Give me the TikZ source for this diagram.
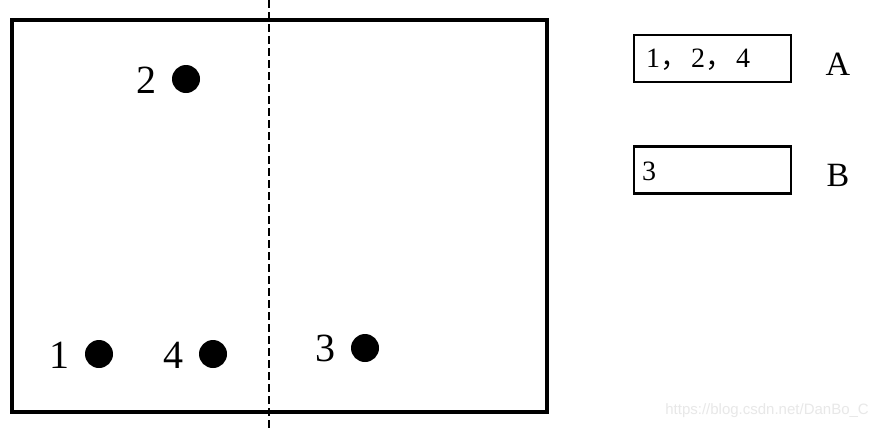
\documentclass[tikz,border=0pt]{standalone}
\usepackage{fontspec}
\setmainfont{Liberation Serif}
\newfontfamily\cjk{Noto Sans CJK SC}
\newfontfamily\wmfont{Liberation Sans}
\definecolor{wm}{RGB}{232,232,232}
\begin{document}
\begin{tikzpicture}[x=1pt,y=-1pt,
  dot/.style={circle,fill=black,inner sep=0pt,minimum size=28pt},
  lbl/.style={inner sep=0pt,font=\fontsize{40}{40}\selectfont},
  setbox/.style={draw,line width=2.6pt,minimum width=157pt,minimum height=47pt,inner sep=0pt},
  setname/.style={inner sep=0pt,font=\fontsize{34}{34}\selectfont},
  boxtext/.style={inner sep=0pt,anchor=west,font=\fontsize{28}{28}\selectfont}]
\useasboundingbox (0,0) rectangle (878,429);
\fill[white] (0,0) rectangle (878,429);
% main rectangle
\draw[line width=4pt] (12,20) rectangle (547,412);
% dashed divider
\coordinate (dtop) at (269,0);
\coordinate (dbot) at (269,429);
\draw[line width=2.8pt,dash pattern=on 8pt off 4pt] (dtop) -- (dbot);
% points
\node[dot] (p2) at (186,79) {};
\node[dot] (p1) at (99,354) {};
\node[dot] (p4) at (213,354) {};
\node[dot] (p3) at (365,348) {};
\node[lbl] (l2) at (146,80) {2};
\node[lbl] (l1) at (59,355) {1};
\node[lbl] (l4) at (173,355) {4};
\node[lbl] (l3) at (325,348) {3};
% sets
\node[setbox] (boxA) at (712.5,58.5) {};
\node[setbox] (boxB) at (712.5,170) {};
\node[boxtext] (tA) at (646,60) {1{\cjk ，}\hspace{3pt}2{\cjk ，}\hspace{3pt}4};
\node[boxtext] (tB) at (642,171) {3};
\node[setname] (nA) at (838,64) {A};
\node[setname] (nB) at (838,175) {B};
% watermark
\node[inner sep=0pt,anchor=east,text=wm,font=\wmfont\fontsize{15}{15}\selectfont] (wmk) at (869,411) {https://blog.csdn.net/DanBo\_C};
\end{tikzpicture}
\end{document}
